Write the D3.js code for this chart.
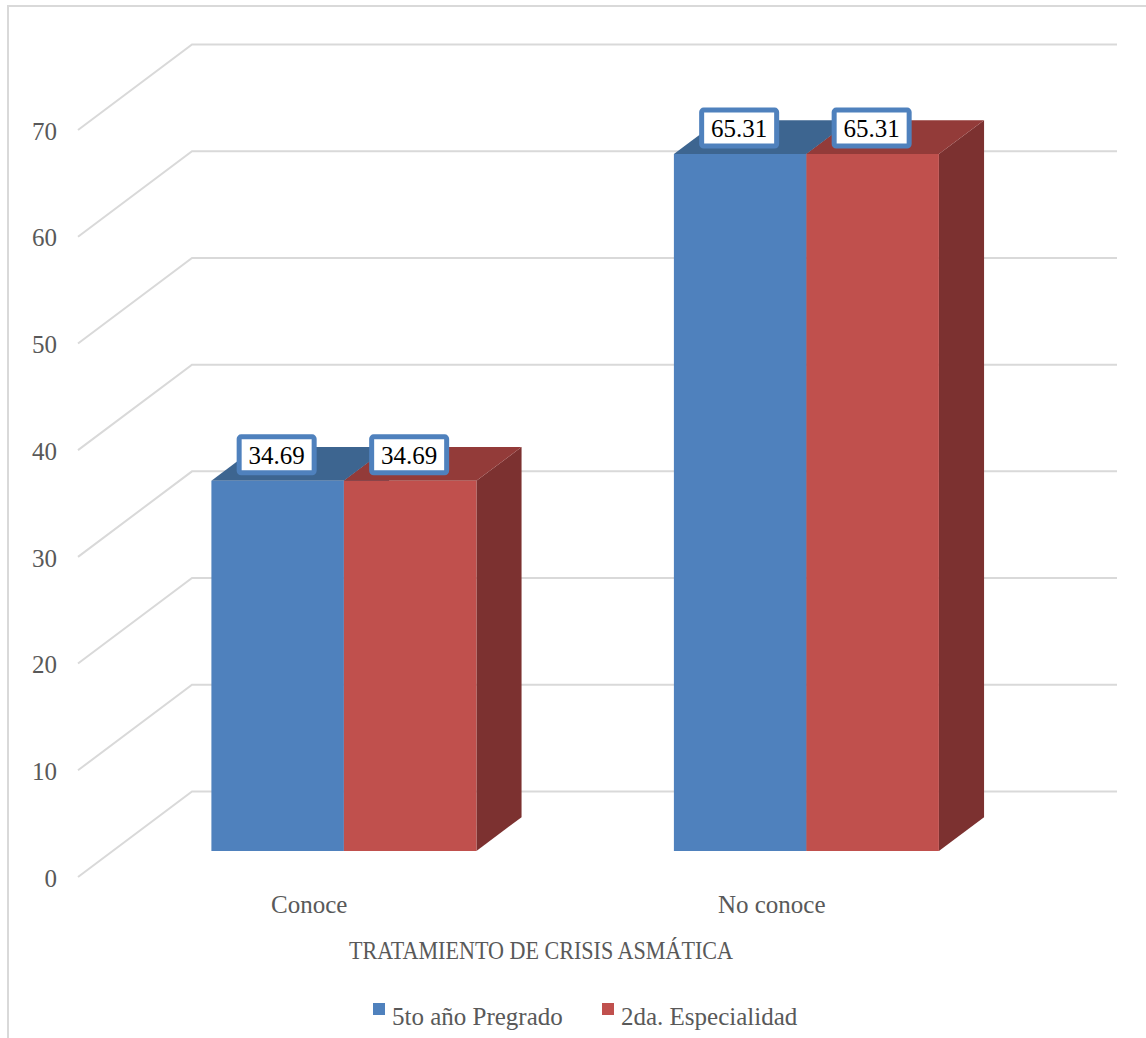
<!DOCTYPE html>
<html>
<head>
<meta charset="utf-8">
<script src="https://cdn.jsdelivr.net/npm/d3@7"></script>
<style>
  html, body { margin: 0; padding: 0; background: #fff; }
  svg { display: block; }
  text { font-family: "Liberation Serif", "Times New Roman", serif; }
</style>
</head>
<body>
<svg id="chart" width="1146" height="1038"></svg>
<script>
// Data
const categories = ["Conoce", "No conoce"];
const seriesNames = ["5to año Pregrado", "2da. Especialidad"];
const pregrado = [34.69, 65.31];
const especialidad = [34.69, 65.31];
const yTicks = [0, 10, 20, 30, 40, 50, 60, 70];
const axisTitle = "TRATAMIENTO DE CRISIS ASMÁTICA";

const seriesValues = [pregrado, especialidad];
const palette = [
  { front: "#4f81bd", top: "#3d6590", side: "#2f5079" },
  { front: "#c0504d", top: "#933b39", side: "#7c3130" }
];

const svg = d3.select("#chart");
const grid = "#d9d9d9";
const textGray = "#595959";

// Oblique 3D projection: front floor line, depth vector
const floorY = 877;
const depth = { dx: 114, dy: -85.5 };
const barD0 = 0.304, barD1 = 0.70;

const y = d3.scaleLinear().domain([0, 70]).range([0, 747]);
const x = d3.scaleBand().domain(categories).range([78, 1003])
  .paddingInner(0.427).paddingOuter(0.2135);
const xs = d3.scaleBand().domain(seriesNames).range([0, x.bandwidth()]);

function P(px, v, d) {
  return [px + depth.dx * d, floorY + depth.dy * d - y(v)];
}

// Chart frame
svg.append("path")
  .attr("d", "M8,1040 L8,6 L1148,6")
  .attr("fill", "none").attr("stroke", grid).attr("stroke-width", 2);

// Back wall gridlines and side wall diagonals
const gridG = svg.append("g").attr("stroke", grid).attr("stroke-width", 2).attr("fill", "none");
yTicks.forEach(t => {
  const a = P(x.range()[0], t, 0), b = P(x.range()[0], t, 1), c = P(x.range()[1], t, 1);
  gridG.append("path").attr("d", `M${a[0]},${a[1]} L${b[0]},${b[1]} L${c[0]},${c[1]}`);
});

// Y axis labels
svg.append("g").selectAll("text").data(yTicks).join("text")
  .attr("x", 57)
  .attr("y", t => P(0, t, 0)[1] + 1)
  .attr("dy", "0.35em")
  .attr("text-anchor", "end")
  .attr("font-size", 25)
  .attr("fill", textGray)
  .text(t => t);

// Bars
const barsG = svg.append("g");
const poly = pts => "M" + pts.map(p => p.join(",")).join("L") + "Z";
categories.forEach((cat, ci) => {
  seriesNames.forEach((s, si) => {
    const v = seriesValues[si][ci];
    const xl = x(cat) + xs(s), xr = xl + xs.bandwidth();
    const col = palette[si];
    // side face
    barsG.append("path").attr("fill", col.side)
      .attr("d", poly([P(xr, 0, barD0), P(xr, v, barD0), P(xr, v, barD1), P(xr, 0, barD1)]));
    // top face
    barsG.append("path").attr("fill", col.top)
      .attr("d", poly([P(xl, v, barD0), P(xr, v, barD0), P(xr, v, barD1), P(xl, v, barD1)]));
    // front face
    barsG.append("path").attr("fill", col.front)
      .attr("d", poly([P(xl, 0, barD0), P(xr, 0, barD0), P(xr, v, barD0), P(xl, v, barD0)]));
  });
});

// Value labels
const labG = svg.append("g");
categories.forEach((cat, ci) => {
  seriesNames.forEach((s, si) => {
    const v = seriesValues[si][ci];
    const cx = P(x(cat) + xs(s) + xs.bandwidth() / 2, v, barD0)[0] - 1;
    const cy = P(0, v, barD0)[1] - 26;
    labG.append("rect")
      .attr("x", cx - 37.5).attr("y", cy - 18)
      .attr("width", 75).attr("height", 36)
      .attr("rx", 2)
      .attr("fill", "#fff").attr("stroke", "#4f81bd").attr("stroke-width", 5);
    labG.append("text")
      .attr("x", cx).attr("y", cy).attr("dy", "0.35em")
      .attr("text-anchor", "middle").attr("font-size", 25).attr("fill", "#000")
      .text(v.toFixed(2));
  });
});

// Category labels
svg.append("g").selectAll("text").data(categories).join("text")
  .attr("x", d => x(d) + x.bandwidth() / 2)
  .attr("y", 913)
  .attr("text-anchor", "middle")
  .attr("font-size", 25)
  .attr("fill", textGray)
  .text(d => d);

// Axis title
svg.append("text")
  .attr("x", 541).attr("y", 959)
  .attr("text-anchor", "middle")
  .attr("font-size", 25)
  .attr("textLength", 384)
  .attr("lengthAdjust", "spacingAndGlyphs")
  .attr("fill", textGray)
  .text(axisTitle);

// Legend
const legendX = [373, 602];
const lg = svg.append("g");
seriesNames.forEach((s, i) => {
  lg.append("rect").attr("x", legendX[i]).attr("y", 1003).attr("width", 12).attr("height", 12)
    .attr("fill", palette[i].front);
  lg.append("text").attr("x", legendX[i] + 19).attr("y", 1025)
    .attr("font-size", 25).attr("fill", textGray).text(s);
});
</script>
</body>
</html>
